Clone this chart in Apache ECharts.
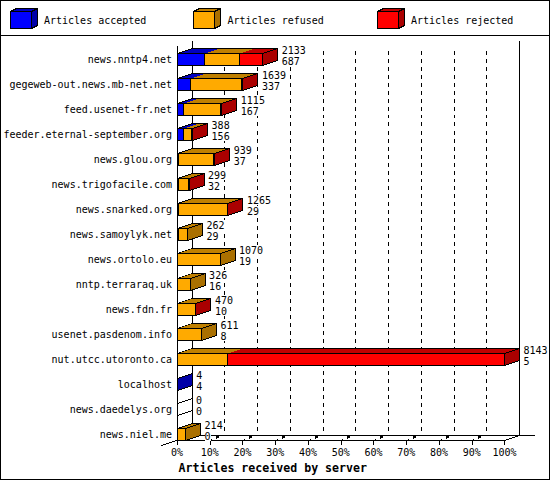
<!DOCTYPE html>
<html><head><meta charset="utf-8">
<style>html,body{margin:0;padding:0;background:#fff}#c{width:550px;height:480px}svg path{shape-rendering:crispEdges}</style>
<script src="https://cdn.jsdelivr.net/npm/echarts@6/dist/echarts.min.js"></script>
</head><body><div id="c"></div>
<script>
const categories = ['news.nntp4.net','gegeweb-out.news.mb-net.net','feed.usenet-fr.net','feeder.eternal-september.org','news.glou.org','news.trigofacile.com','news.snarked.org','news.samoylyk.net','news.ortolo.eu','nntp.terraraq.uk','news.fdn.fr','usenet.pasdenom.info','nut.utcc.utoronto.ca','localhost','news.daedelys.org','news.niel.me'];
const totals   = [2133,1639,1115,388,939,299,1265,262,1070,326,470,611,8143,4,0,214];
const accepted = [687,337,167,156,37,32,29,29,19,16,10,8,5,4,0,0];
const refused  = [879,1277,920,209,882,262,1216,233,1051,310,450,603,1256,0,0,214];
const rejected = [567,25,28,23,20,5,20,0,0,0,10,0,6882,0,0,0];
const seriesNames = ['Articles accepted','Articles refused','Articles rejected'];
const frontColors = ['#0000ff','#ffaa00','#ff0000'];
const topColors   = ['#0000c0','#c08000','#c00000'];
const sideColors  = ['#0000a8','#aa7000','#aa0000'];
const tickValues  = [0,10,20,30,40,50,60,70,80,90,100];
const axisTitle   = 'Articles received by server';

const FONT = '10px "DejaVu Sans Mono"';
const DX = 15, DY = 5, BAR = 12, HALF = 12.5;
const maxTotal = Math.max(...totals);
const pct = v => v / maxTotal * 100;
const snap = v => Math.floor(v) + 0.5;
const line = (pts, dash) => ({type:'polyline', shape:{points:pts.map(p=>[snap(p[0]),snap(p[1])])},
  style:{stroke:'#000', lineWidth:1, fill:null, lineDash:dash||null}, silent:true});
const poly = (pts, fill, stroke) => ({type:'polygon', shape:{points:pts.map(p=>[snap(p[0]),snap(p[1])])},
  style:{fill:fill, stroke:stroke?'#000':null, lineWidth:1}, silent:true});

function renderGrid(params, api) {
  const x = api.coord([api.value(0), 0])[0];
  const b = params.coordSys.y + params.coordSys.height;
  const t = params.coordSys.y;
  const v = api.value(0);
  const ch = [];
  if (v === 0) {
    ch.push(line([[x+DX,t],[x+DX,b-DY]]));
    ch.push(line([[x-16,b+5],[x+DX,b-DY]]));
  } else if (v === 100) {
    ch.push(line([[x+DX,t],[x+DX,b-DY]]));
    ch.push(line([[x,b],[x+DX,b-DY]]));
  } else {
    ch.push(line([[x+DX,t+10],[x+DX,b-DY]],[4,4]));
    ch.push(line([[x,b],[x+DX,b-DY]],[3,4]));
    ch.push({type:'rect', shape:{x:Math.floor(x)+7,y:b-4,width:3,height:2}, style:{fill:'#000'}, silent:true});
  }
  return {type:'group', children:ch};
}
function renderFrame(params, api) {
  const o = api.coord([0, 0])[0];
  const e = api.coord([100, 0])[0];
  const r = params.coordSys;
  return {type:'group', children:[
    line([[o+DX,r.y+r.height-DY],[e+DX+15,r.y+r.height-DY]]),
    line([[o,r.y+5],[o,r.y+r.height]])
  ]};
}
function makeSeg(k) {
  return function(params, api) {
    const i = api.value(0);
    const p0 = api.coord([api.value(1), i]);
    const p1 = api.coord([api.value(2), i]);
    const last = api.value(3) === 1, empty = api.value(4) === 1, first = api.value(5) === 1;
    const yb = p0[1] + HALF, yt = yb - BAR;
    const x0 = p0[0], x1 = p1[0];
    const ch = [];
    if (x1 > x0 && !empty) {
      ch.push(poly([[x0,yt],[x0+DX,yt-DY],[x1+DX,yt-DY],[x1,yt]], topColors[k], false));
      ch.push(line([[x0+DX,yt-DY],[x1+DX,yt-DY]]));
      if (first) ch.push(line([[x0,yt],[x0+DX,yt-DY]]));
      ch.push(poly([[x0,yt],[x1,yt],[x1,yb],[x0,yb]], frontColors[k], true));
    }
    if (last) {
      if (empty) {
        ch.push(line([[x1,yt],[x1+DX,yt-DY]]));
        ch.push(line([[x1,yb],[x1+DX,yb-DY]]));
      } else {
        ch.push(poly([[x1,yt],[x1+DX,yt-DY],[x1+DX,yb-DY],[x1,yb]], sideColors[k], true));
      }
    }
    return {type:'group', children:ch};
  };
}
function renderLabels(params, api) {
  const i = api.value(0);
  const p = api.coord([pct(totals[i]), i]);
  const x = p[0] + DX + 4;
  const yc = p[1] + HALF - BAR/2;
  const txt = (s, y) => ({type:'text', style:{text:String(s), x:x, y:y, fill:'#000', font:FONT, textAlign:'left', textVerticalAlign:'middle', backgroundColor:'#fff'}, silent:true});
  return {type:'group', children:[txt(totals[i], yc-9), txt(accepted[i], yc+2)]};
}

const valueArrays = [accepted, refused, rejected];
const barSeries = valueArrays.map((vals, k) => ({
  type:'custom', name:seriesNames[k], coordinateSystem:'cartesian2d', renderItem:makeSeg(k),
  encode:{x:[1,2], y:0},
  data: vals.map((v, i) => {
    let start = 0;
    for (let j = 0; j < k; j++) start += valueArrays[j][i];
    let lastIdx = 0;
    let firstIdx = -1;
    valueArrays.forEach((a, j) => { if (a[i] > 0) { lastIdx = j; if (firstIdx < 0) firstIdx = j; } });
    return [i, pct(start), pct(start + v), lastIdx === k ? 1 : 0, totals[i] === 0 ? 1 : 0, firstIdx === k ? 1 : 0];
  })
}));

const legendEls = [];
seriesNames.forEach((n, k) => {
  const x = 10 + 183.5 * k, y = 11, w = 21, h = 17, d = 6;
  legendEls.push({type:'polygon', silent:true, shape:{points:[[x,y],[x+d,y-3],[x+w+d,y-3],[x+w,y]].map(p=>[snap(p[0]),snap(p[1])])}, style:{fill:topColors[k],stroke:'#000',lineWidth:1}});
  legendEls.push({type:'polygon', silent:true, shape:{points:[[x+w,y],[x+w+d,y-3],[x+w+d,y+h-3],[x+w,y+h]].map(p=>[snap(p[0]),snap(p[1])])}, style:{fill:sideColors[k],stroke:'#000',lineWidth:1}});
  legendEls.push({type:'polygon', silent:true, shape:{points:[[x,y],[x+w,y],[x+w,y+h],[x,y+h]].map(p=>[snap(p[0]),snap(p[1])])}, style:{fill:frontColors[k],stroke:'#000',lineWidth:1}});
  legendEls.push({type:'text', silent:true, x:x+34, y:20, style:{text:n, fill:'#000', font:FONT, textVerticalAlign:'middle'}});
});

const chart = echarts.init(document.getElementById('c'), null, {renderer:'svg'});
chart.setOption({
  animation:false,
  backgroundColor:'#fff',
  grid:{left:177, top:40, width:327.5, height:400, containLabel:false, outerBoundsMode:'none'},
  xAxis:{type:'value', min:0, max:100, interval:10,
    axisLine:{show:true, onZero:false, lineStyle:{color:'#000',width:1}},
    axisTick:{show:true, length:5, lineStyle:{color:'#000',width:1}},
    splitLine:{show:false},
    axisLabel:{color:'#000', fontFamily:'DejaVu Sans Mono', fontSize:10, margin:7, formatter:v=>v+'%', showMinLabel:true, showMaxLabel:true},
    name:axisTitle, nameLocation:'middle', nameGap:22,
    nameTextStyle:{color:'#000', fontFamily:'DejaVu Sans Mono', fontWeight:'bold', fontSize:11.6, padding:[0,136,0,0]}
  },
  yAxis:{type:'category', inverse:true, data:categories,
    axisLine:{show:false}, axisTick:{show:false}, splitLine:{show:false},
    axisLabel:{color:'#000', fontFamily:'DejaVu Sans Mono', fontSize:10, margin:5, interval:0, verticalAlign:'top', lineHeight:13}
  },
  graphic:{elements:[
    {type:'rect', silent:true, z:-1, shape:{x:0.5,y:0.5,width:549,height:479}, style:{fill:null,stroke:'#000',lineWidth:1}},
    {type:'line', silent:true, shape:{x1:0,y1:35.5,x2:550,y2:35.5}, style:{stroke:'#000',lineWidth:1}},
    ...legendEls
  ]},
  series:[
    {type:'custom', name:'grid', coordinateSystem:'cartesian2d', renderItem:renderGrid, data:tickValues.map(v=>[v]), encode:{x:0}},
    {type:'custom', name:'frame', coordinateSystem:'cartesian2d', renderItem:renderFrame, data:[[0]], encode:{x:0}},
    ...barSeries,
    {type:'custom', name:'labels', coordinateSystem:'cartesian2d', renderItem:renderLabels, data:categories.map((c,i)=>[i]), encode:{y:0}}
  ]
});
</script></body></html>
